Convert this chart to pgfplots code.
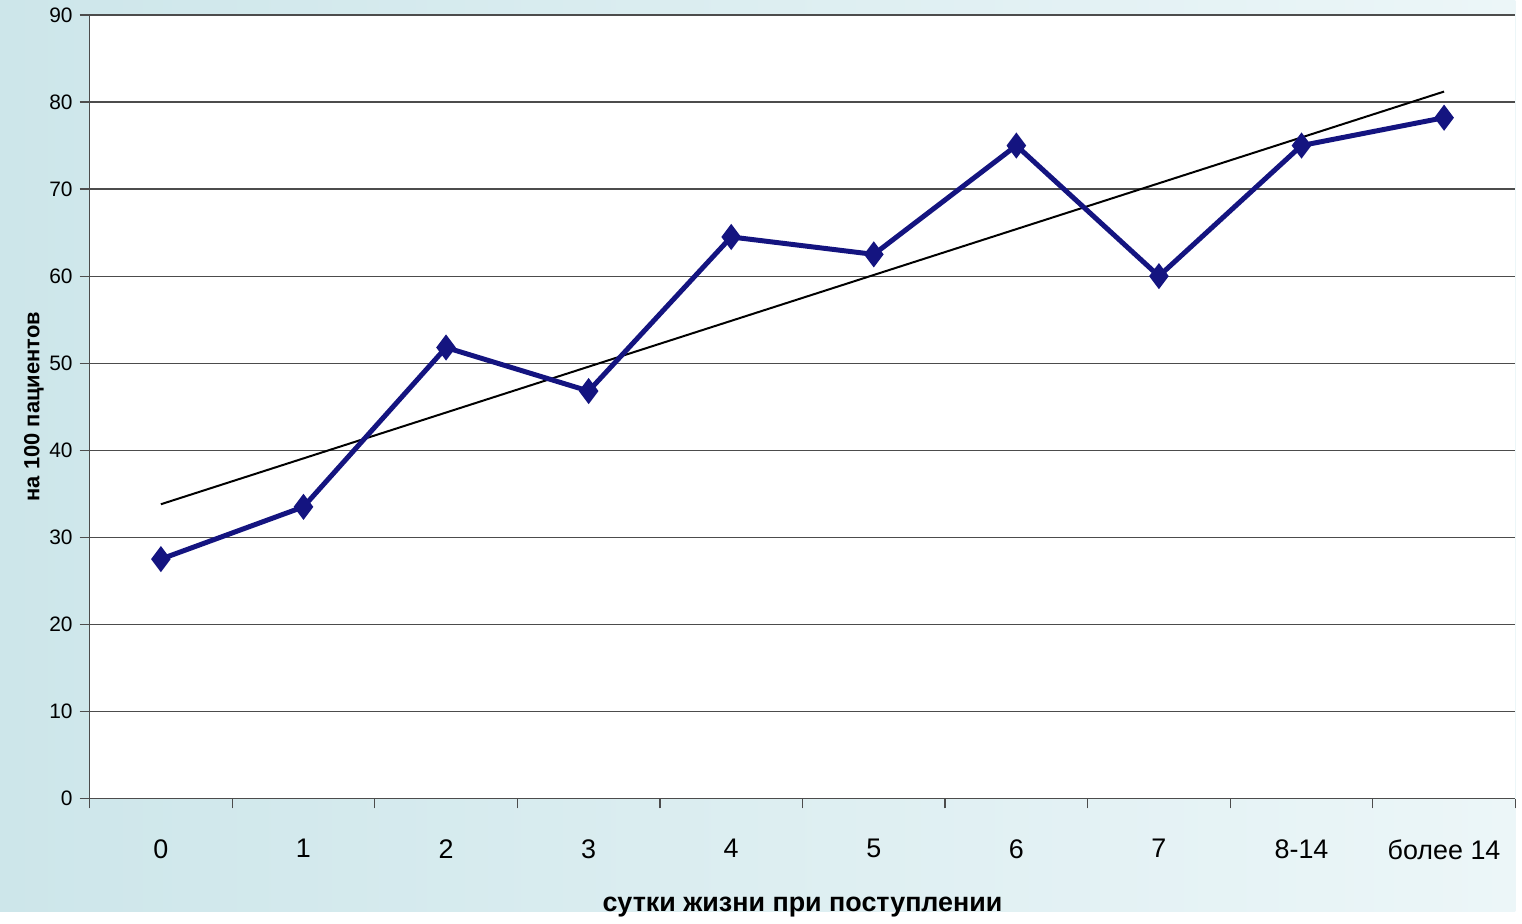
\documentclass[border=0pt]{standalone}
\usepackage{pgfplots}
\pgfplotsset{compat=1.18}
\usepackage{fontspec}
\setmainfont{Liberation Sans}
\definecolor{navy}{RGB}{20,20,128}
\begin{document}
\begin{tikzpicture}
\shade[left color={rgb,255:red,205;green,230;blue,234}, right color={rgb,255:red,236;green,246;blue,248}] (0,0) rectangle (761pt,457.5pt);
\begin{axis}[at={(45pt,56.5pt)}, anchor=south west, scale only axis,
  width=716pt, height=393.5pt,
  axis background/.style={fill=white},
  xmin=-0.5, xmax=9.5, ymin=0, ymax=90,
  ytick={0,10,...,90}, ymajorgrids, major grid style={black!70, line width=0.6pt},
  xtick={-0.5,0.5,...,9.5}, xticklabels={},
  extra x ticks={0,...,9}, extra x tick labels={0,1,2,3,4,5,6,7,8-14,более 14},
  extra x tick style={major tick length=0pt, grid=none},
  axis x line*=bottom, axis y line*=left,
  axis line style={black!70, line width=0.6pt},
  tick style={black!70, line width=0.6pt},
  tick align=outside, ytick pos=left, xtick pos=bottom, major tick length=5pt,
  /pgf/number format/assume math mode=true,
  yticklabel style={font=\fontsize{10.5}{12}\selectfont},
  xticklabel style={font=\fontsize{13.5}{15}\selectfont, yshift=-17pt},
  xlabel={\textbf{сутки жизни при поступлении}},
  xlabel style={font=\fontsize{13.5}{15}\selectfont, yshift=-7pt},
  ylabel={\textbf{на 100 пациентов}},
  ylabel style={font=\fontsize{11}{13}\selectfont, yshift=-4pt},
]
\addplot[black, line width=1pt] coordinates {(0,33.8) (9,81.2)};
\addplot[navy, line width=2.5pt, mark=diamond*, mark size=4.5pt] coordinates {
(0,27.5) (1,33.5) (2,51.8) (3,46.8) (4,64.5) (5,62.5) (6,75) (7,60) (8,75) (9,78.2)};
\end{axis}
\end{tikzpicture}
\end{document}
